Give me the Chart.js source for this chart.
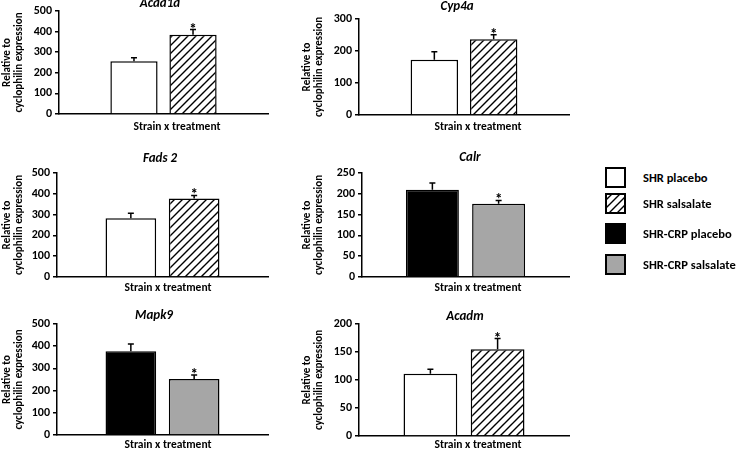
<!DOCTYPE html>
<html lang="en">
<head>
<meta charset="UTF-8" />
<title>Gene expression - strain x treatment</title>
<script src="https://cdn.jsdelivr.net/npm/chart.js"></script>
<style>
  body { margin: 0; background: #fff; width: 740px; height: 450px; position: relative; overflow: hidden; font-family: Carlito, Lato, sans-serif; }
  .cell { position: absolute; }
  .key { position: absolute; left: 605px; display: flex; align-items: center; font-weight: bold; font-size: 12.5px; color: #000; white-space: nowrap; }
  .key canvas { margin-right: 17px; }
</style>
</head>
<body>
<div id="charts"></div>
<div id="legend"></div>
<script>
  // values
  const genes = ['Acaa1a', 'Cyp4a', 'Fads 2', 'Calr', 'Mapk9', 'Acadm'];
  const strains = ['SHR', 'SHR', 'SHR', 'SHR-CRP', 'SHR-CRP', 'SHR'];
  const placebo = [256, 173, 282, 210, 377, 111];
  const placeboSem = [17, 25, 24, 16, 33, 8];
  const salsalate = [385, 237, 377, 176, 252, 155];
  const salsalateSem = [25, 14, 15, 8, 18, 19];
  const significant = [true, true, true, true, true, true];
  const yMax = [500, 300, 500, 250, 500, 200];
  const yStep = [100, 100, 100, 50, 100, 50];
  const xLabel = 'Strain x treatment';
  const yLabel = ['Relative to', 'cyclophilin expression'];
  const groups = ['SHR placebo', 'SHR salsalate', 'SHR-CRP placebo', 'SHR-CRP salsalate'];

  const FONT = 'Carlito, Lato, sans-serif';
  const W = 290, H = 150;

  // where each panel sits on the page
  const panels = [
    {left: 0,   top: 0,   axis: 59, plotTop: 11, plotBottom: 114, plotRight: 268, titleX: 160, titleY: 4,  labelX: 177, labelY: 127, cat: 0.565},
    {left: 300, top: 0,   axis: 59, plotTop: 19, plotBottom: 115, plotRight: 269, titleX: 157, titleY: 7,  labelX: 178, labelY: 127, cat: 0.565},
    {left: 0,   top: 150, axis: 57, plotTop: 23, plotBottom: 127, plotRight: 268, titleX: 160, titleY: 9,  labelX: 168, labelY: 138, cat: 0.6},
    {left: 300, top: 150, axis: 62, plotTop: 23, plotBottom: 127, plotRight: 269, titleX: 170, titleY: 8,  labelX: 178, labelY: 138, cat: 0.64},
    {left: 0,   top: 300, axis: 57, plotTop: 24, plotBottom: 135, plotRight: 268, titleX: 154, titleY: 16, labelX: 168, labelY: 145, cat: 0.6},
    {left: 300, top: 300, axis: 59, plotTop: 24, plotBottom: 136, plotRight: 269, titleX: 165, titleY: 17, labelX: 178, labelY: 145, cat: 0.64}
  ];

  function hatch() {
    const c = document.createElement('canvas');
    c.width = 8; c.height = 8;
    const g = c.getContext('2d');
    g.fillStyle = '#fff';
    g.fillRect(0, 0, 8, 8);
    g.strokeStyle = '#000';
    g.lineWidth = 1.4;
    g.beginPath();
    g.moveTo(0, 8); g.lineTo(8, 0);
    g.moveTo(-2, 2); g.lineTo(2, -2);
    g.moveTo(6, 10); g.lineTo(10, 6);
    g.stroke();
    return g.createPattern(c, 'repeat');
  }
  const stripes = hatch();

  function fillFor(group) {
    if (group === 'SHR placebo') return '#ffffff';
    if (group === 'SHR salsalate') return stripes;
    if (group === 'SHR-CRP placebo') return '#000000';
    return '#a6a6a6';
  }

  // SEM whiskers (upward only) and significance stars
  const errorBars = {
    id: 'errorBars',
    afterDatasetsDraw(chart) {
      const ctx = chart.ctx;
      const y = chart.scales.y;
      ctx.save();
      ctx.strokeStyle = '#000';
      ctx.lineWidth = 1.5;
      chart.data.datasets.forEach((ds, i) => {
        chart.getDatasetMeta(i).data.forEach((bar, j) => {
          const top = y.getPixelForValue(ds.data[j] + ds.errors[j]);
          ctx.beginPath();
          ctx.moveTo(bar.x, bar.y);
          ctx.lineTo(bar.x, top);
          ctx.moveTo(bar.x - 3, top);
          ctx.lineTo(bar.x + 3, top);
          ctx.stroke();
          if (ds.stars[j]) {
            ctx.fillStyle = '#000';
            ctx.font = 'bold 15px ' + FONT;
            ctx.textAlign = 'center';
            ctx.textBaseline = 'alphabetic';
            ctx.fillText('*', bar.x, top + 4);
          }
        });
      });
      ctx.restore();
    }
  };

  // gene name on top, x label below the axis
  const panelText = {
    id: 'panelText',
    afterDraw(chart, args, opts) {
      const ctx = chart.ctx;
      ctx.save();
      ctx.fillStyle = '#000';
      ctx.textAlign = 'center';
      ctx.textBaseline = 'middle';
      ctx.font = 'italic bold 13px ' + FONT;
      ctx.fillText(opts.title, opts.titleX, opts.titleY);
      ctx.font = 'bold 11.5px ' + FONT;
      ctx.fillText(opts.label, opts.labelX, opts.labelY);
      ctx.restore();
    }
  };

  panels.forEach((p, i) => {
    const box = document.createElement('div');
    box.className = 'cell';
    box.style.left = p.left + 'px';
    box.style.top = p.top + 'px';
    const canvas = document.createElement('canvas');
    canvas.width = W;
    canvas.height = H;
    box.appendChild(canvas);
    document.getElementById('charts').appendChild(box);

    const first = strains[i] + ' placebo';
    const second = strains[i] + ' salsalate';

    new Chart(canvas, {
      type: 'bar',
      data: {
        labels: [xLabel],
        datasets: [
          {label: first, data: [placebo[i]], errors: [placeboSem[i]], stars: [false], backgroundColor: fillFor(first)},
          {label: second, data: [salsalate[i]], errors: [salsalateSem[i]], stars: [significant[i]], backgroundColor: fillFor(second)}
        ]
      },
      options: {
        responsive: false,
        animation: false,
        events: [],
        layout: {padding: {left: 0, top: p.plotTop, right: W - p.plotRight, bottom: H - p.plotBottom}},
        datasets: {bar: {borderColor: '#000', borderWidth: 1.5, categoryPercentage: p.cat, barPercentage: 0.8}},
        plugins: {
          legend: {display: false},
          tooltip: {enabled: false},
          panelText: {title: genes[i], titleX: p.titleX, titleY: p.titleY, label: xLabel, labelX: p.labelX, labelY: p.labelY}
        },
        scales: {
          x: {
            ticks: {display: false},
            grid: {display: false},
            border: {color: '#000', width: 1.5},
            afterFit: s => { s.height = 0; }
          },
          y: {
            min: 0,
            max: yMax[i],
            ticks: {stepSize: yStep[i], color: '#000', padding: 3, font: {family: FONT, size: 12, weight: 'bold'}},
            grid: {drawOnChartArea: false, tickLength: 4, color: '#000', lineWidth: 1.5},
            border: {color: '#000', width: 1.5},
            title: {display: true, text: yLabel, color: '#000', padding: {top: 1, bottom: 0},
                    font: {family: FONT, size: 11, weight: 'bold', lineHeight: 1.1}},
            afterFit: s => { s.width = p.axis; }
          }
        }
      },
      plugins: [errorBars, panelText]
    });
  });

  // legend on the right
  const keyTops = [167, 193, 223, 254];
  groups.forEach((g, k) => {
    const row = document.createElement('div');
    row.className = 'key';
    row.style.top = keyTops[k] + 'px';
    const sw = document.createElement('canvas');
    sw.width = 21; sw.height = 21;
    const c = sw.getContext('2d');
    c.fillStyle = fillFor(g);
    c.fillRect(0, 0, 21, 21);
    c.strokeStyle = '#000';
    c.lineWidth = 2;
    c.strokeRect(1, 1, 19, 19);
    row.appendChild(sw);
    row.appendChild(document.createTextNode(g));
    document.getElementById('legend').appendChild(row);
  });
</script>
</body>
</html>
